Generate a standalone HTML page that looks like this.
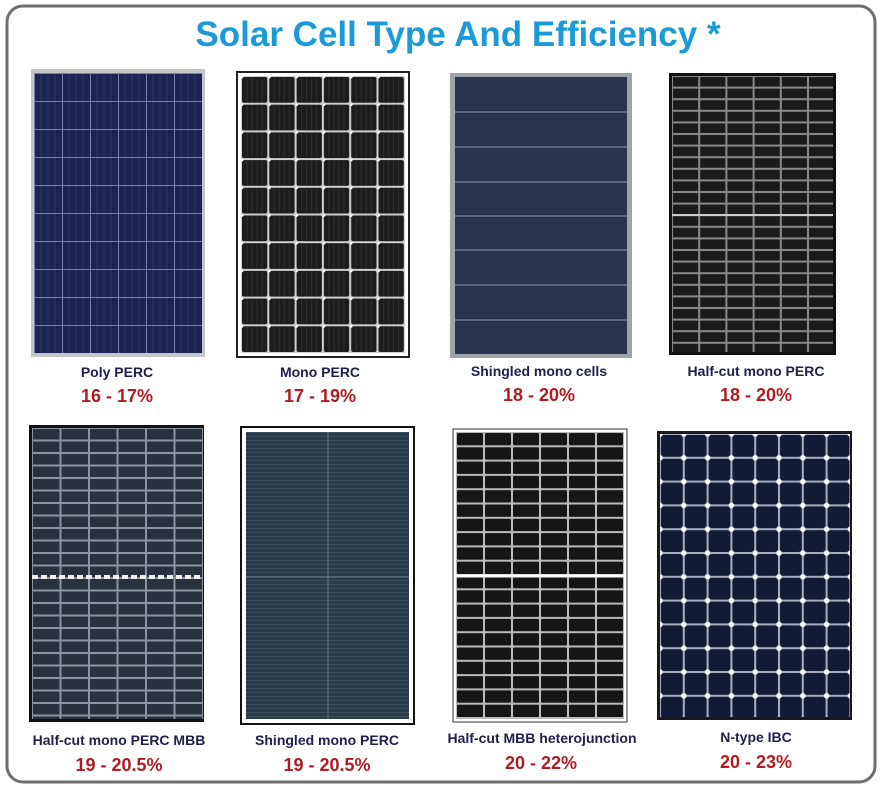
<!DOCTYPE html>
<html><head><meta charset="utf-8"><style>
html,body{margin:0;padding:0;background:#fff;}
svg{display:block}
.t{font-family:"Liberation Sans",sans-serif;font-weight:bold;}
</style></head><body>
<svg width="882" height="808" viewBox="0 0 882 808" xmlns="http://www.w3.org/2000/svg">
<defs>
<pattern id="p1" x="34" y="73" width="28" height="28" patternUnits="userSpaceOnUse">
<rect width="28" height="28" fill="#1e2452"/>
<path d="M7 0V28M14 0V28M21 0V28" stroke="#2e3566" stroke-width="1"/>
<path d="M0 0.5H28M0.5 0V28" stroke="#7a80a6" stroke-width="1"/></pattern>
<pattern id="p2" x="241" y="76" width="27.3" height="27.7" patternUnits="userSpaceOnUse">
<rect width="27.3" height="27.7" fill="#d0d0d0"/>
<rect x="1" y="1" width="25.3" height="25.7" rx="2" fill="#1c1c1c"/>
<path d="M6 2V26M11 2V26M16 2V26M21 2V26" stroke="#2e2e2e"/>
<circle cx="0.5" cy="0.5" r="2" fill="#fff"/></pattern>
<pattern id="p4" x="672" y="76" width="27.2" height="11.6" patternUnits="userSpaceOnUse">
<rect width="27.2" height="11.6" fill="#888"/>
<rect x="1" y="1" width="25.2" height="9.6" fill="#1a1a1a"/></pattern>
<pattern id="p5" x="32" y="428" width="28.5" height="12.5" patternUnits="userSpaceOnUse">
<rect width="28.5" height="12.5" fill="#8a93a0"/>
<rect x="1" y="1" width="26.5" height="10.5" fill="#29313d"/></pattern>
<pattern id="p7" x="456" y="432" width="28" height="14.3" patternUnits="userSpaceOnUse">
<rect width="28" height="14.3" fill="#bbb"/>
<rect x="1" y="1" width="26" height="12.3" rx="1" fill="#161616"/></pattern>
<pattern id="p8" x="660" y="434" width="23.8" height="23.8" patternUnits="userSpaceOnUse">
<rect width="23.8" height="23.8" fill="#a8aec0"/>
<rect x="1" y="1" width="21.8" height="21.8" rx="3" fill="#121a36"/>
<circle cx="0" cy="0" r="2.6" fill="#fff"/><circle cx="23.8" cy="0" r="2.6" fill="#fff"/><circle cx="0" cy="23.8" r="2.6" fill="#fff"/><circle cx="23.8" cy="23.8" r="2.6" fill="#fff"/></pattern>
<pattern id="p6" x="246" y="432" width="163" height="4" patternUnits="userSpaceOnUse">
<rect width="163" height="4" fill="#2b3a4b"/><path d="M0 0.5H163" stroke="#3d4c5e"/></pattern>
</defs>
<rect x="0" y="0" width="882" height="808" fill="#fff"/>
<rect x="7" y="6" width="868" height="776" rx="16" fill="none" stroke="#6e6e6e" stroke-width="3"/>
<text x="458" y="46" text-anchor="middle" class="t" font-size="35" fill="#1a9ad8">Solar Cell Type And Efficiency *</text>

<rect x="31" y="69" width="174" height="288" fill="#c4c6c8"/>
<rect x="34" y="73" width="168" height="280" fill="url(#p1)"/>
<rect x="237" y="72" width="172" height="285" fill="#fff" stroke="#222" stroke-width="2"/>
<rect x="241" y="76" width="164" height="277" fill="url(#p2)"/>
<rect x="450" y="73" width="182" height="285" fill="#a0a2a6"/>
<rect x="455" y="77" width="172" height="277" fill="#2a3350"/>
<path d="M455 112H627M455 147H627M455 182H627M455 216H627M455 250H627M455 285H627M455 320H627" stroke="#6d7590" stroke-width="1.5"/>
<rect x="669" y="73" width="167" height="282" fill="#111"/>
<rect x="672" y="76" width="161" height="276" fill="url(#p4)"/>
<path d="M672 215H833" stroke="#ccc" stroke-width="2"/>

<text x="117" y="377" text-anchor="middle" class="t" font-size="14" fill="#20204e">Poly PERC</text>
<text x="117" y="402" text-anchor="middle" class="t" font-size="18" fill="#b01c22">16 - 17%</text>
<text x="320" y="377" text-anchor="middle" class="t" font-size="14" fill="#20204e">Mono PERC</text>
<text x="320" y="402" text-anchor="middle" class="t" font-size="18" fill="#b01c22">17 - 19%</text>
<text x="539" y="376" text-anchor="middle" class="t" font-size="14" fill="#20204e">Shingled  mono cells</text>
<text x="539" y="401" text-anchor="middle" class="t" font-size="18" fill="#b01c22">18 - 20%</text>
<text x="756" y="376" text-anchor="middle" class="t" font-size="14" fill="#20204e">Half-cut mono PERC</text>
<text x="756" y="401" text-anchor="middle" class="t" font-size="18" fill="#b01c22">18 - 20%</text>

<rect x="29" y="425" width="175" height="297" fill="#111"/>
<rect x="32" y="428" width="171" height="291" fill="url(#p5)"/>
<path d="M32 577H203" stroke="#eee" stroke-width="4" stroke-dasharray="6 3"/>
<rect x="241" y="427" width="173" height="297" fill="#fff" stroke="#111" stroke-width="2"/>
<rect x="246" y="432" width="163" height="287" fill="url(#p6)"/>
<path d="M246 577H409M328 432V719" stroke="#6a7a8a" stroke-width="1"/>
<rect x="453" y="429" width="174" height="293" fill="#fff" stroke="#333" stroke-width="1"/>
<rect x="456" y="432" width="168" height="287" fill="url(#p7)"/>
<path d="M456 576H624" stroke="#fff" stroke-width="3"/>
<rect x="657" y="431" width="195" height="289" fill="#1a1a1a"/>
<rect x="660" y="434" width="190" height="283" fill="url(#p8)"/>

<text x="119" y="745" text-anchor="middle" class="t" font-size="14" fill="#20204e">Half-cut mono PERC MBB</text>
<text x="119" y="771" text-anchor="middle" class="t" font-size="18" fill="#b01c22">19 - 20.5%</text>
<text x="327" y="745" text-anchor="middle" class="t" font-size="14" fill="#20204e">Shingled mono PERC</text>
<text x="327" y="771" text-anchor="middle" class="t" font-size="18" fill="#b01c22">19 - 20.5%</text>
<text x="542" y="743" text-anchor="middle" class="t" font-size="14" fill="#20204e">Half-cut MBB heterojunction</text>
<text x="541" y="769" text-anchor="middle" class="t" font-size="18" fill="#b01c22">20 - 22%</text>
<text x="756" y="742" text-anchor="middle" class="t" font-size="14" fill="#20204e">N-type IBC</text>
<text x="756" y="768" text-anchor="middle" class="t" font-size="18" fill="#b01c22">20 - 23%</text>
</svg>
</body></html>
